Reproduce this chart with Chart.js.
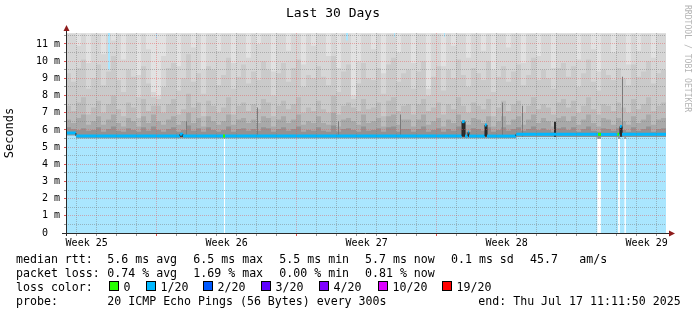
<!DOCTYPE html>
<html>
<head>
<meta charset="utf-8">
<script src="https://cdn.jsdelivr.net/npm/chart.js@4"></script>
<style>
  body { margin: 0; background: #fff; }
  #wrap { position: relative; width: 697px; height: 315px; overflow: hidden; }
  #chart { position: absolute; left: 0; top: 0; }
  .t { position: absolute; font-family: 'DejaVu Sans Mono', monospace; font-size: 11.6px; line-height: 14px; white-space: pre; color: #000; }
  .box { position: absolute; width: 10px; height: 10px; border: 1px solid #000; box-sizing: border-box; }
  #sig { position: absolute; left: 683px; top: 5px; font-family: 'DejaVu Sans Mono', monospace; font-size: 8.1px; line-height: 9px; color: #b4b4b4; writing-mode: vertical-rl; white-space: pre; }
</style>
</head>
<body>
<div id="wrap">
  <canvas id="chart" width="697" height="315"></canvas>
  <div id="sig">RRDTOOL / TOBI OETIKER</div>
  <div id="legend"></div>
</div>
<script>
// time axis: hours since start of the 30 day window (end Thu Jul 17 11:11:50 2025)
const spanHours = 720;
const binHours = 6;
const firstDayHour = 12.8;     // first midnight after the window start
const firstWeekHour = 108.8;   // first week boundary
const weekLabels = ['Week 25', 'Week 26', 'Week 27', 'Week 28', 'Week 29'];
const weekLabelHours = [24.8, 192.8, 360.8, 528.8, 696.8];

// y axis (milliseconds, labelled "m")
const yMax = 11.64;
const yMajor = [0, 1, 2, 3, 4, 5, 6, 7, 8, 9, 10, 11];

// smoke layers, one value per 6 hour bin (ms), outermost first
const smoke1 = [
  11.6, 11.6, 10.9, 11.6, 9.9, 11.6, 11.6, 10.4, 11.6, 11.2,
  11.6, 10.1, 11.6, 11.6, 9.2, 11.6, 10.7, 8.2, 8.0, 10.3,
  11.6, 11.6, 9.7, 11.6, 11.6, 10.8, 11.6, 9.5, 11.6, 11.6,
  10.6, 11.6, 11.6, 9.9, 11.6, 11.6, 10.2, 11.6, 11.0, 11.6,
  11.6, 9.4, 11.6, 11.6, 10.6, 11.6, 11.6, 9.8, 11.6, 10.9,
  11.6, 11.6, 10.3, 11.6, 9.6, 11.6, 11.6, 8.0, 10.0, 11.6,
  11.6, 10.7, 11.6, 9.3, 11.6, 11.6, 10.5, 11.6, 11.6, 9.9,
  11.6, 11.6, 8.4, 11.6, 11.6, 9.7, 11.6, 10.9, 11.6, 11.6,
  10.2, 11.6, 11.6, 10.6, 11.6, 9.5, 11.6, 11.6, 10.8, 11.6,
  11.6, 9.9, 11.6, 11.6, 10.3, 11.6, 11.6, 9.6, 11.6, 11.6,
  11.6, 11.6, 10.1, 11.6, 11.6, 10.7, 9.4, 11.6, 11.6, 10.5,
  11.6, 11.6, 9.8, 11.6, 10.6, 11.6, 11.6, 10.2, 11.6, 11.6
];
const smoke2 = [
  9.3, 8.8, 9.6, 10.1, 8.4, 9.0, 9.8, 8.6, 9.4, 10.3,
  8.9, 8.2, 9.5, 9.1, 7.9, 9.7, 8.7, 7.9, 7.8, 8.5,
  9.6, 9.9, 8.3, 9.0, 10.4, 8.8, 9.3, 8.1, 9.7, 9.5,
  8.6, 9.2, 10.2, 8.4, 9.1, 9.8, 8.7, 9.4, 8.9, 10.0,
  9.5, 8.0, 9.3, 9.9, 8.8, 9.6, 10.1, 8.5, 9.2, 9.0,
  9.7, 9.1, 8.6, 10.3, 8.2, 9.4, 9.8, 7.8, 8.7, 9.9,
  9.0, 8.9, 9.6, 8.1, 9.8, 10.2, 8.8, 9.3, 9.5, 8.4,
  9.4, 10.0, 8.0, 9.1, 9.7, 8.3, 9.5, 9.0, 10.1, 9.2,
  8.5, 9.6, 9.3, 8.9, 10.0, 8.2, 9.1, 9.7, 8.8, 9.4,
  9.8, 8.6, 9.2, 10.2, 8.9, 9.5, 9.0, 8.4, 9.6, 9.9,
  9.1, 9.7, 8.5, 9.3, 10.1, 8.8, 8.3, 9.5, 9.2, 8.9,
  9.6, 9.0, 8.6, 9.8, 9.1, 9.4, 10.0, 8.7, 9.3, 9.5
];
const smoke3 = [
  7.4, 7.1, 7.6, 7.9, 6.9, 7.3, 7.7, 7.0, 7.5, 8.0,
  7.2, 6.8, 7.6, 7.3, 6.7, 7.8, 7.1, 7.4, 7.4, 7.0,
  7.5, 7.8, 6.9, 7.2, 8.1, 7.3, 7.6, 6.8, 7.7, 7.4,
  7.0, 7.3, 7.9, 6.9, 7.4, 7.6, 7.1, 7.5, 7.2, 7.8,
  7.6, 6.8, 7.4, 7.7, 7.2, 7.5, 7.9, 7.0, 7.3, 7.1,
  7.7, 7.2, 7.0, 8.0, 6.9, 7.4, 7.6, 7.3, 7.1, 7.8,
  7.2, 7.3, 7.6, 6.8, 7.7, 7.9, 7.1, 7.4, 7.5, 6.9,
  7.5, 7.8, 7.1, 7.3, 7.6, 6.9, 7.5, 7.2, 7.9, 7.4,
  7.0, 7.6, 7.4, 7.2, 7.8, 6.8, 7.3, 7.7, 7.1, 7.5,
  7.7, 7.0, 7.4, 7.9, 7.2, 7.5, 7.3, 6.9, 7.6, 7.8,
  7.3, 7.7, 7.0, 7.4, 7.9, 7.2, 6.9, 7.5, 7.4, 7.1,
  7.6, 7.3, 7.0, 7.8, 7.2, 7.5, 7.9, 7.1, 7.4, 7.6
];
const smoke4 = [
  6.6, 6.4, 6.7, 6.9, 6.3, 6.5, 6.8, 6.3, 6.6, 6.9,
  6.4, 6.2, 6.7, 6.5, 6.2, 6.8, 6.4, 6.9, 6.5, 6.3,
  6.6, 6.8, 6.3, 6.5, 7.0, 6.4, 6.7, 6.2, 6.8, 6.5,
  6.3, 6.5, 6.9, 6.3, 6.6, 6.7, 6.4, 6.6, 6.4, 6.8,
  6.7, 6.2, 6.6, 6.8, 6.4, 6.6, 6.9, 6.3, 6.5, 6.4,
  6.8, 6.4, 6.3, 7.0, 6.2, 6.6, 6.7, 6.5, 6.3, 6.9,
  6.4, 6.5, 6.7, 6.2, 6.8, 6.9, 6.3, 6.6, 6.6, 6.2,
  6.6, 6.9, 6.3, 6.5, 6.7, 6.2, 6.6, 6.4, 6.9, 6.5,
  6.3, 6.7, 6.6, 6.4, 6.8, 6.2, 6.5, 6.8, 6.3, 6.6,
  6.8, 6.3, 6.6, 6.9, 6.4, 6.7, 6.5, 6.2, 6.7, 6.8,
  6.5, 6.8, 6.3, 6.6, 6.9, 6.4, 6.2, 6.7, 6.6, 6.3,
  6.7, 6.5, 6.3, 6.8, 6.4, 6.6, 6.9, 6.3, 6.6, 6.7
];
const smoke5 = [
  6.15, 6.05, 6.0, 6.1, 5.95, 6.0, 6.15, 5.9, 6.05, 6.2,
  5.95, 5.9, 6.1, 6.0, 5.9, 6.15, 5.95, 6.2, 6.0, 5.9,
  6.05, 6.15, 5.9, 6.0, 6.25, 5.95, 6.1, 5.9, 6.15, 6.0,
  5.9, 6.0, 6.2, 5.9, 6.05, 6.1, 5.95, 6.05, 5.95, 6.15,
  6.1, 5.9, 6.05, 6.15, 5.95, 6.05, 6.2, 5.9, 6.0, 5.95,
  6.15, 5.95, 5.9, 6.25, 5.9, 6.05, 6.1, 6.0, 5.9, 6.2,
  5.95, 6.0, 6.1, 5.9, 6.15, 6.2, 5.9, 6.05, 6.05, 5.9,
  6.05, 6.2, 5.9, 6.0, 6.1, 5.9, 6.05, 5.95, 6.2, 6.0,
  5.9, 6.1, 6.05, 5.95, 6.15, 5.9, 6.0, 6.15, 5.95, 6.05,
  6.15, 5.95, 6.05, 6.2, 6.0, 6.1, 6.0, 5.9, 6.1, 6.15,
  6.0, 6.15, 5.9, 6.05, 6.2, 5.95, 5.9, 6.1, 6.05, 5.95,
  6.1, 6.0, 5.9, 6.15, 5.95, 6.05, 6.2, 5.9, 6.05, 6.1
];
const smokeBase = 5.5;

// median rtt change points (hours, ms, loss colour index)
const medTimes = [0, 12, 12, 136.8, 136.8, 140.4, 140.4, 188.4, 190.8, 475.2, 475.2, 478.8, 478.8, 482.4, 482.4, 483.6, 483.6,
                  502.8, 502.8, 505.2, 505.2, 540, 540, 638.4, 642, 661.8, 663.6, 664.8, 664.8, 667.2, 667.2, 720];
const medVals = [5.82, 5.82, 5.64, 5.64, 5.75, 5.75, 5.64, 5.64, 5.64, 5.64, 6.48, 6.48, 5.64, 5.64, 5.86, 5.86, 5.64,
                 5.64, 6.29, 6.29, 5.64, 5.64, 5.74, 5.74, 5.74, 5.74, 5.74, 5.74, 6.2, 6.2, 5.74, 5.74];
const medLoss = [1, 1, 1, 1, 1, 1, 1, 0, 1, 1, 1, 1, 1, 1, 1, 1, 1,
                 1, 1, 1, 1, 1, 1, 0, 1, 0, 1, 1, 1, 1, 1, 1];

// lower ping level (area under the median), null = no data
const floorTimes = [0, 12, 189.6, 190.8, 540, 637.9, 641.6, 662.8, 664.4, 670.4, 671.6, 720];
const floorVals = [5.68, 5.5, null, 5.5, 5.58, null, 5.58, null, 5.58, null, 5.58, 5.58];

// narrow grey and black smoke spikes
const greyStart = [144, 229.2, 326.4, 400.8, 523.2, 547.2, 667.2];
const greyEnd = [145.2, 230.4, 327.6, 402, 524.4, 548.4, 668.4];
const greyTop = [6.5, 7.3, 6.5, 6.9, 7.6, 7.4, 9.1];
const darkStart = [136.8, 475.2, 482.4, 502.8, 585.6, 664.8];
const darkEnd = [140.4, 478.8, 483.6, 505.2, 588, 667.2];
const darkTop = [5.75, 6.48, 5.86, 6.29, 6.48, 6.2];

// light blue streaks at the top of the graph
const streakStart = [50.4, 108, 336, 393.6, 453.6];
const streakEnd = [52.8, 109.2, 338.4, 394.8, 454.8];
const streakLow = [9.5, 11.3, 11.2, 11.4, 11.4];

// loss colours legend
const lossLabels = ['0', '1/20', '2/20', '3/20', '4/20', '10/20', '19/20'];
const lossColors = ['#26ff00', '#00b8ff', '#0059ff', '#5e00ff', '#7e00ff', '#dd00ff', '#ff0000'];

const monoFont = "'DejaVu Sans Mono', monospace";

function binPoints(vals) {
  const pts = vals.map((v, i) => ({ x: i * binHours, y: v }));
  pts.push({ x: vals.length * binHours, y: vals[vals.length - 1] });
  return pts;
}
function changePoints(times, vals) {
  const pts = [];
  let last = null;
  times.forEach((t, i) => {
    if (vals[i] === null) {
      pts.push({ x: t, y: last });
      pts.push({ x: t, y: null });
    } else {
      pts.push({ x: t, y: vals[i] });
      last = vals[i];
    }
  });
  return pts;
}
function columnPoints(starts, ends, tops) {
  const pts = [];
  starts.forEach((s, i) => {
    pts.push({ x: s, y: tops[i] }, { x: ends[i], y: tops[i] }, { x: ends[i], y: null });
  });
  return pts;
}
function smokeLayer(vals, color, order) {
  return { data: binPoints(vals), backgroundColor: color, borderWidth: 0, fill: { value: smokeBase }, stepped: true, order: order };
}

const near = (a, b) => Math.abs(a - b) < 0.01;
const isWeekLine = (v) => near(((v - firstWeekHour) % 168 + 168) % 168, 0);
const isLabelTick = (v) => weekLabelHours.some((h) => near(h, v));
const isRiser = (c) => Math.abs(c.p0.x - c.p1.x) < 0.5;

const minorGrid = 'rgba(120,120,120,0.45)';
const majorGrid = 'rgba(230,80,80,0.42)';

const rrdFrame = {
  id: 'rrdFrame',
  beforeDatasetsDraw(chart) {
    const { ctx, chartArea: a, scales: { y } } = chart;
    ctx.save();
    ctx.fillStyle = '#e2e2e2';
    const yb = y.getPixelForValue(smokeBase);
    ctx.fillRect(a.left, a.top, a.right - a.left, yb - a.top);
    ctx.restore();
  },
  afterDraw(chart) {
    const { ctx, chartArea: a } = chart;
    ctx.save();
    ctx.strokeStyle = '#2a2a2a';
    ctx.lineWidth = 1;
    ctx.beginPath();
    ctx.moveTo(a.left + 0.5, a.bottom + 3);
    ctx.lineTo(a.left + 0.5, a.top - 3);
    ctx.moveTo(a.left - 4, a.bottom + 0.5);
    ctx.lineTo(a.right + 3, a.bottom + 0.5);
    ctx.stroke();
    ctx.fillStyle = '#8e1b1b';
    ctx.beginPath();
    ctx.moveTo(a.left - 2.5, a.top - 2);
    ctx.lineTo(a.left + 3.5, a.top - 2);
    ctx.lineTo(a.left + 0.5, a.top - 8);
    ctx.closePath();
    ctx.fill();
    ctx.beginPath();
    ctx.moveTo(a.right + 3, a.bottom - 2.5);
    ctx.lineTo(a.right + 3, a.bottom + 3.5);
    ctx.lineTo(a.right + 9, a.bottom + 0.5);
    ctx.closePath();
    ctx.fill();
    ctx.restore();
  }
};

new Chart(document.getElementById('chart'), {
  type: 'line',
  data: {
    datasets: [
      {
        data: changePoints(medTimes, medVals),
        borderColor: lossColors[1],
        borderWidth: 3,
        fill: false,
        stepped: true,
        order: 0,
        segment: {
          borderColor: (c) => (isRiser(c) ? '#222222' : lossColors[medLoss[c.p0DataIndex]]),
          borderWidth: (c) => (isRiser(c) ? 1 : 3)
        }
      },
      { data: columnPoints(darkStart, darkEnd, darkTop), backgroundColor: '#2e2e2e', borderWidth: 0, fill: { value: 5.6 }, stepped: true, order: 1 },
      { data: columnPoints(greyStart, greyEnd, greyTop), backgroundColor: '#7a7a7a', borderWidth: 0, fill: { value: 5.6 }, stepped: true, order: 2 },
      { data: changePoints(floorTimes, floorVals), backgroundColor: '#aae6fe', borderWidth: 0, fill: 'origin', stepped: true, order: 3 },
      { data: columnPoints(streakStart, streakEnd, streakLow), backgroundColor: '#aae6fe', borderWidth: 0, fill: 'end', stepped: true, order: 4 },
      smokeLayer(smoke5, '#929292', 5),
      smokeLayer(smoke4, '#a9a9a9', 6),
      smokeLayer(smoke3, '#bcbcbc', 7),
      smokeLayer(smoke2, '#cacaca', 8),
      smokeLayer(smoke1, '#d6d6d6', 9)
    ]
  },
  options: {
    responsive: false,
    animation: false,
    devicePixelRatio: 1,
    elements: { point: { radius: 0 } },
    layout: { autoPadding: false, padding: { left: 0, right: 31, top: 0, bottom: 0 } },
    plugins: {
      legend: { display: false },
      tooltip: { enabled: false },
      title: {
        display: true,
        text: 'Last 30 Days',
        color: '#000',
        font: { family: monoFont, size: 13, weight: 'normal' },
        padding: { top: 6, bottom: 11.4 }
      }
    },
    scales: {
      x: {
        type: 'linear',
        min: 0,
        max: spanHours,
        afterFit: (s) => { s.height = 82; },
        afterBuildTicks: (axis) => {
          const vals = [];
          for (let h = firstDayHour; h < spanHours; h += 24) vals.push(h);
          vals.push(...weekLabelHours);
          vals.sort((a, b) => a - b);
          axis.ticks = vals.map((v) => ({ value: v }));
        },
        ticks: {
          autoSkip: false,
          maxRotation: 0,
          padding: 1,
          color: '#000',
          font: { family: monoFont, size: 10 },
          callback: (v) => {
            const i = weekLabelHours.findIndex((h) => near(h, v));
            return i >= 0 ? weekLabels[i] : '';
          }
        },
        grid: {
          z: 1,
          lineWidth: 1,
          tickLength: 3,
          color: (c) => (isLabelTick(c.tick.value) ? 'rgba(0,0,0,0)' : isWeekLine(c.tick.value) ? majorGrid : minorGrid),
          tickColor: (c) => (isLabelTick(c.tick.value) ? 'rgba(0,0,0,0)' : isWeekLine(c.tick.value) ? '#e05050' : '#999999'),
          borderDash: [1, 1]
        },
        border: { display: false, dash: [1, 1] }
      },
      y: {
        min: 0,
        max: yMax,
        afterFit: (s) => { s.width = 66; },
        afterBuildTicks: (axis) => {
          const vals = [];
          yMajor.forEach((v) => { vals.push(v); if (v + 0.5 < yMax) vals.push(v + 0.5); });
          axis.ticks = vals.map((v) => ({ value: v }));
        },
        ticks: {
          autoSkip: false,
          padding: 4,
          color: '#000',
          font: { family: monoFont, size: 10 },
          callback: (v) => (yMajor.includes(v) ? (v === 0 ? '0  ' : v + ' m') : '')
        },
        grid: {
          z: 1,
          lineWidth: 1,
          tickLength: 2,
          color: (c) => (c.tick.value === 0 ? 'rgba(0,0,0,0)' : yMajor.includes(c.tick.value) ? majorGrid : minorGrid),
          tickColor: (c) => (yMajor.includes(c.tick.value) ? '#e05050' : '#999999'),
          borderDash: [1, 1]
        },
        border: { display: false, dash: [1, 1] },
        title: {
          display: true,
          text: 'Seconds',
          color: '#000',
          font: { family: monoFont, size: 12 },
          padding: { top: 3, bottom: 0 }
        }
      }
    }
  },
  plugins: [rrdFrame]
});

// legend below the graph
const legend = document.getElementById('legend');
function put(text, x, y) {
  const d = document.createElement('div');
  d.className = 't';
  d.style.left = x + 'px';
  d.style.top = y + 'px';
  d.textContent = text;
  legend.appendChild(d);
}
const rowTop = [251.5, 265.5, 279.5, 293.5];
const statX = [107.3, 193.3, 279.3, 365, 451, 530, 579.3];
put('median rtt:', 16, rowTop[0]);
['5.6 ms avg', '6.5 ms max', '5.5 ms min', '5.7 ms now', '0.1 ms sd', '45.7', 'am/s'].forEach((s, i) => put(s, statX[i], rowTop[0]));
put('packet loss:', 16, rowTop[1]);
['0.74 % avg', '1.69 % max', '0.00 % min', '0.81 % now'].forEach((s, i) => put(s, statX[i], rowTop[1]));
put('loss color:', 16, rowTop[2]);
const boxX = [109, 146, 203, 261, 319, 378, 442];
lossLabels.forEach((s, i) => {
  const b = document.createElement('div');
  b.className = 'box';
  b.style.left = boxX[i] + 'px';
  b.style.top = '281px';
  b.style.background = lossColors[i];
  legend.appendChild(b);
  put(s, boxX[i] + 14.5, rowTop[2]);
});
put('probe:', 16, rowTop[3]);
put('20 ICMP Echo Pings (56 Bytes) every 300s', 107.3, rowTop[3]);
put('end: Thu Jul 17 11:11:50 2025', 478.3, rowTop[3]);
</script>
</body>
</html>
